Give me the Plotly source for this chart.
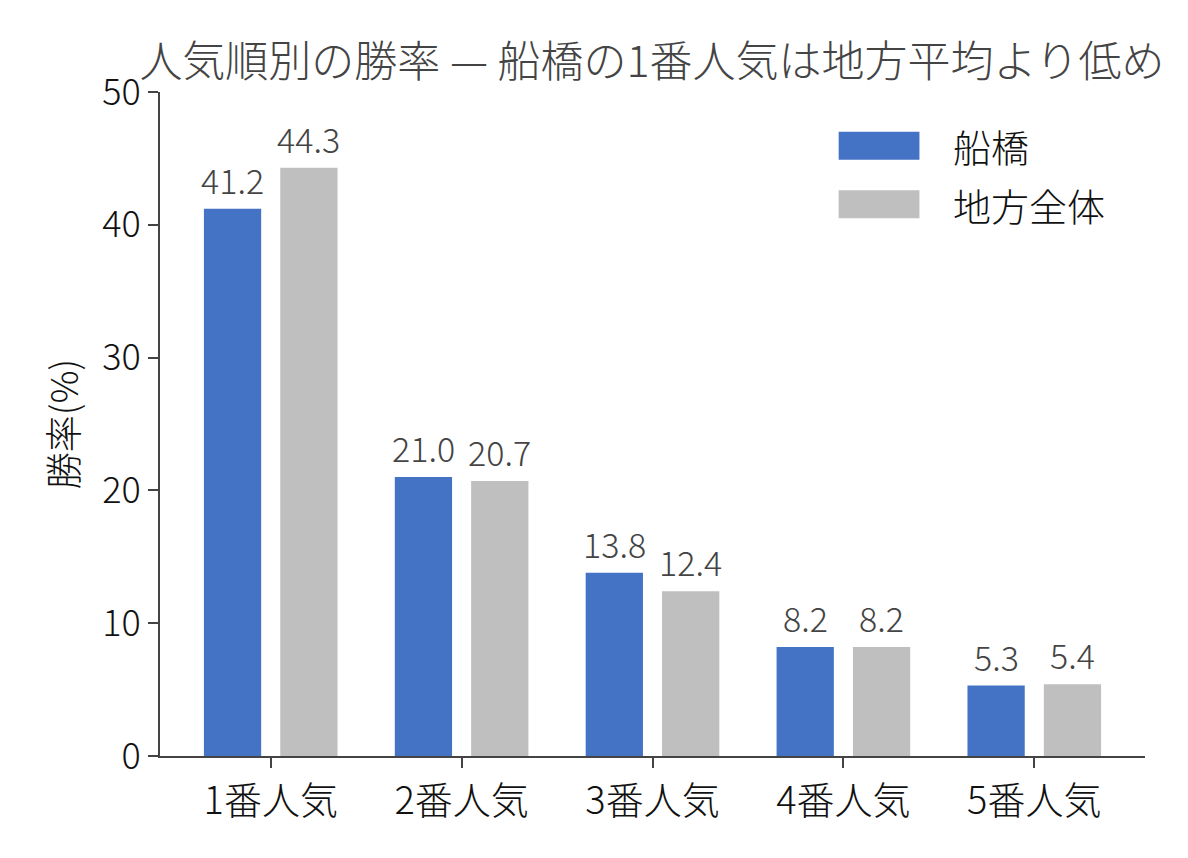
import plotly.graph_objects as go

# data
categories = ['1番人気', '2番人気', '3番人気', '4番人気', '5番人気']
funabashi = [41.2, 21.0, 13.8, 8.2, 5.3]
chiho_all = [44.3, 20.7, 12.4, 8.2, 5.4]
series_names = ['船橋', '地方全体']
y_ticks = [0, 10, 20, 30, 40, 50]

colors = ['#4472C4', '#BFBFBF']
FONT = 'Noto Sans CJK JP'
W, H = 1180, 850  # page body adds an 8px margin

fig = go.Figure()
for name, vals, col in zip(series_names, [funabashi, chiho_all], colors):
    fig.add_trace(go.Bar(
        x=categories, y=vals, name=name,
        marker=dict(color=col, line=dict(width=0)),
        showlegend=False,
    ))

# value labels above the bars (a bit more gap than plotly's outside text)
bar_px_offset = 38
for vals, shift in zip([funabashi, chiho_all], [-bar_px_offset, bar_px_offset]):
    for cat, v in zip(categories, vals):
        fig.add_annotation(x=cat, y=v, text='{:.1f}'.format(v), showarrow=False,
                           xanchor='center', yanchor='bottom',
                           xshift=shift, yshift=3,
                           font=dict(family=FONT, size=34, color='#444444', weight=300))

# legend drawn by hand so swatches are wide like the original
leg_x0, leg_x1, leg_tx = 0.689, 0.771, 0.803
leg_rows = [(0.940, 0.898), (0.852, 0.810)]
for (y1, y0), name, col in zip(leg_rows, series_names, colors):
    fig.add_shape(type='rect', xref='paper', yref='paper',
                  x0=leg_x0, x1=leg_x1, y0=y0, y1=y1,
                  fillcolor=col, line=dict(width=0))
    fig.add_annotation(xref='paper', yref='paper', x=leg_tx, y=(y0 + y1) / 2,
                       text=name, showarrow=False, xanchor='left', yanchor='middle',
                       font=dict(family=FONT, size=38, color='#111111', weight=300))

axis_common = dict(showline=True, linecolor='#444444', linewidth=2,
                   ticks='outside', ticklen=10, tickwidth=2, tickcolor='#444444',
                   showgrid=False, zeroline=False)

fig.update_layout(
    width=W, height=H,
    margin=dict(l=152, r=43, t=84, b=102),
    plot_bgcolor='white', paper_bgcolor='white',
    barmode='group', bargap=0.2, bargroupgap=0.25,
    title=dict(text='人気順別の勝率 — 船橋の1番人気は地方平均より低め',
               x=644 / W, xanchor='center', y=1 - 54 / H, yanchor='middle',
               yref='container',
               font=dict(family=FONT, size=43, color='#444444', weight=300)),
    xaxis=dict(range=[-0.58, 4.58],
               tickfont=dict(family=FONT, size=38, color='#111111', weight=300),
               **axis_common),
    yaxis=dict(range=[0, 50], tickvals=y_ticks,
               tickfont=dict(family=FONT, size=36, color='#111111', weight=300),
               title=dict(text='勝率(%)', standoff=12,
                          font=dict(family=FONT, size=37, color='#111111', weight=300)),
               **axis_common),
    font=dict(family=FONT),
)

fig.write_html('out.html')
